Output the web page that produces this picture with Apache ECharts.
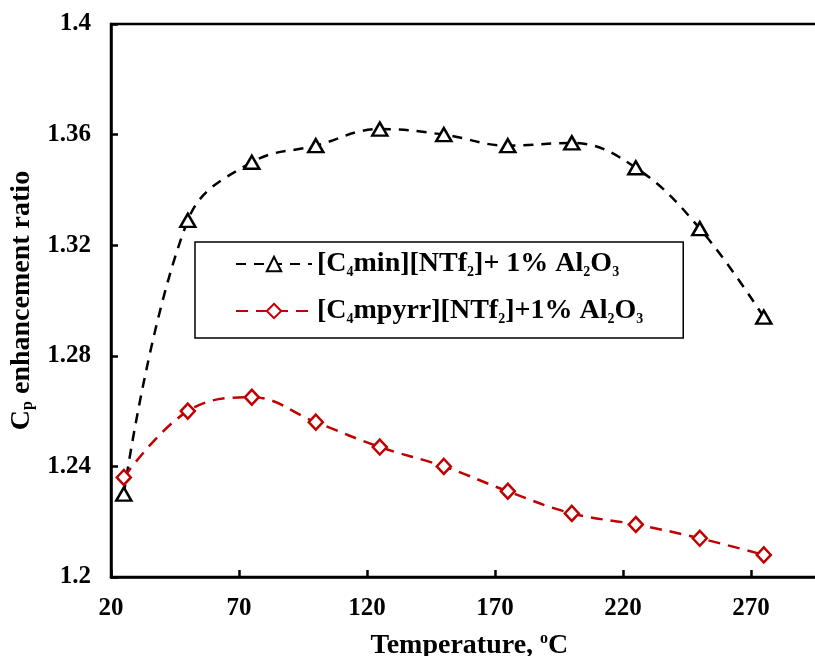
<!DOCTYPE html>
<html>
<head>
<meta charset="utf-8">
<script src="https://cdn.jsdelivr.net/npm/echarts@6/dist/echarts.min.js"></script>
<style>
html,body{margin:0;padding:0;background:#fff;}
#c{width:815px;height:656px;}
</style>
</head>
<body>
<div id="c"></div>
<script>
const temperatures = [25, 50, 75, 100, 125, 150, 175, 200, 225, 250, 275];
const seriesNames = ['[C4min][NTf2]+ 1% Al2O3', '[C4mpyrr][NTf2]+1% Al2O3'];
const c4minValues = [1.230, 1.329, 1.350, 1.356, 1.362, 1.360, 1.356, 1.357, 1.348, 1.326, 1.294];
const c4mpyrrValues = [1.236, 1.260, 1.265, 1.256, 1.247, 1.240, 1.231, 1.223, 1.219, 1.214, 1.208];
const xTicks = [20, 70, 120, 170, 220, 270];
const yTicks = [1.2, 1.24, 1.28, 1.32, 1.36, 1.4];

const FONT = '"Liberation Serif", "Times New Roman", serif';

function pairs(xs, ys) { return xs.map((x, i) => [x, ys[i]]); }
function richName(name) {
  return '{t|' + name.replace(/([A-Za-z])(\d)/g, '$1}{s|$2}{t|') + '}';
}

const chart = echarts.init(document.getElementById('c'), null, {renderer: 'canvas'});
chart.setOption({
  animation: false,
  backgroundColor: '#fff',
  grid: {
    left: 111, top: 24, width: 716.8, height: 553,
    outerBoundsMode: 'none', containLabel: false,
    show: true, borderColor: '#000', borderWidth: 2.5, backgroundColor: 'transparent'
  },
  xAxis: {
    type: 'value',
    min: xTicks[0], max: 300, interval: xTicks[1] - xTicks[0],
    axisLine: {lineStyle: {color: '#000', width: 2.5}},
    axisTick: {inside: true, length: 7, lineStyle: {color: '#000', width: 2.5}},
    splitLine: {show: false},
    axisLabel: {
      margin: 19, color: '#000', fontFamily: FONT, fontWeight: 'bold', fontSize: 25,
      formatter: v => xTicks.includes(v) ? String(v) : ''
    },
    name: '{t|Temperature, }{sup|o}{t|C}',
    nameLocation: 'middle', nameGap: 54,
    nameTextStyle: {
      color: '#000', fontFamily: FONT, fontWeight: 'bold', fontSize: 28,
      rich: {
        t: {color: '#000', fontFamily: FONT, fontWeight: 'bold', fontSize: 28, lineHeight: 30},
        sup: {color: '#000', fontFamily: FONT, fontWeight: 'bold', fontSize: 16, lineHeight: 16, verticalAlign: 'top'}
      }
    }
  },
  yAxis: {
    type: 'value',
    min: yTicks[0], max: yTicks[yTicks.length - 1], interval: 0.04,
    axisLine: {lineStyle: {color: '#000', width: 2.5}},
    axisTick: {inside: true, length: 7, lineStyle: {color: '#000', width: 2.5}},
    splitLine: {show: false},
    axisLabel: {
      margin: 20, color: '#000', fontFamily: FONT, fontWeight: 'bold', fontSize: 25,
      formatter: v => String(Math.round(v * 100) / 100)
    },
    name: '{t|C}{s|p}{t| enhancement ratio}',
    nameLocation: 'middle', nameGap: 70,
    nameTextStyle: {
      color: '#000', fontFamily: FONT, fontWeight: 'bold', fontSize: 28,
      rich: {
        t: {color: '#000', fontFamily: FONT, fontWeight: 'bold', fontSize: 28, lineHeight: 30},
        s: {color: '#000', fontFamily: FONT, fontWeight: 'bold', fontSize: 16, lineHeight: 16, verticalAlign: 'bottom'}
      }
    }
  },
  legend: {
    orient: 'vertical',
    left: 195, top: 242,
    padding: [8, 40, 12, 40],
    itemGap: 18,
    itemWidth: 76, itemHeight: 18,
    borderColor: '#000', borderWidth: 1.5, backgroundColor: '#fff',
    data: seriesNames,
    formatter: richName,
    textStyle: {
      color: '#000', fontFamily: FONT, fontWeight: 'bold', fontSize: 28,
      rich: {
        t: {color: '#000', fontFamily: FONT, fontWeight: 'bold', fontSize: 28, lineHeight: 30},
        s: {color: '#000', fontFamily: FONT, fontWeight: 'bold', fontSize: 14, lineHeight: 14, verticalAlign: 'bottom'}
      }
    }
  },
  series: [
    {
      name: seriesNames[0], type: 'line', smooth: 0.4,
      data: pairs(temperatures, c4minValues),
      symbol: 'triangle', symbolSize: [15, 13],
      itemStyle: {color: '#fff', borderColor: '#000', borderWidth: 2.5},
      lineStyle: {color: '#000', width: 2.5, type: [10, 8]}
    },
    {
      name: seriesNames[1], type: 'line', smooth: 0.4,
      data: pairs(temperatures, c4mpyrrValues),
      symbol: 'diamond', symbolSize: [14, 15],
      itemStyle: {color: '#fff', borderColor: '#C00000', borderWidth: 2.5},
      lineStyle: {color: '#C00000', width: 2.5, type: [12, 8]}
    }
  ]
});
</script>
</body>
</html>
